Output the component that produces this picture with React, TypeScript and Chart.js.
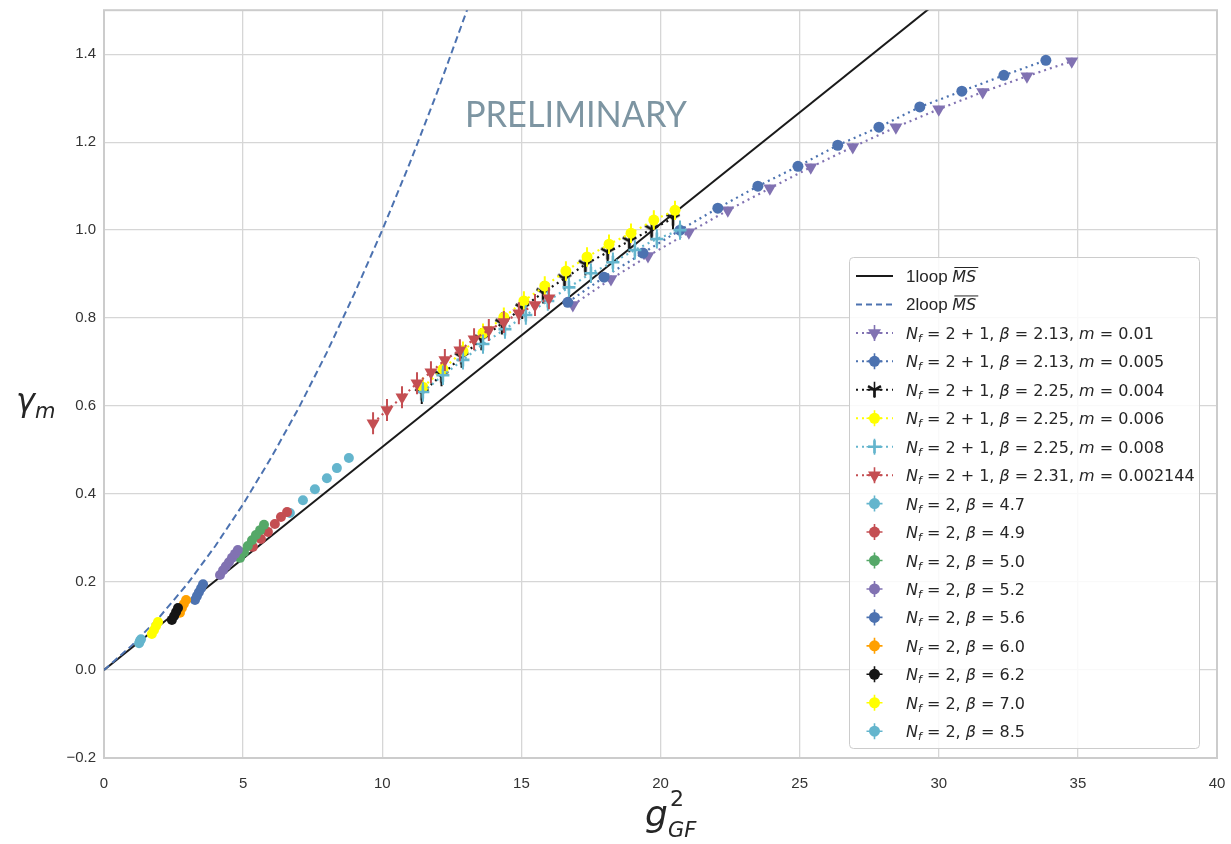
import React, { useEffect, useRef } from 'react';
import { Chart, registerables } from 'chart.js';

Chart.register(...registerables);

// ---------- axes ----------
const X_TICKS = [0, 5, 10, 15, 20, 25, 30, 35, 40];
const Y_TICKS = [-0.2, 0, 0.2, 0.4, 0.6, 0.8, 1.0, 1.2, 1.4];

// ---------- perturbative curves ----------
const LOOP1_X = [0, 40];
const LOOP1_Y = [0, 2.028];
const LOOP2_X = [0, 1, 2, 3, 4, 5, 6, 7, 8, 9, 10, 11, 12, 13, 13.2];
const LOOP2_Y = [0, 0.056, 0.121, 0.196, 0.282, 0.377, 0.482, 0.596, 0.721, 0.856, 1.0, 1.154, 1.318, 1.492, 1.528];

// ---------- Nf = 2+1 ----------
const S213_M010_X = [16.85, 18.22, 19.55, 21.02, 22.42, 23.93, 25.4, 26.91, 28.46, 30.0, 31.58, 33.17, 34.78];
const S213_M010_Y = [0.83, 0.889, 0.941, 0.995, 1.045, 1.095, 1.143, 1.189, 1.234, 1.275, 1.314, 1.35, 1.384];
const S213_M005_X = [16.67, 17.97, 19.37, 20.7, 22.06, 23.5, 24.94, 26.37, 27.85, 29.32, 30.83, 32.34, 33.85];
const S213_M005_Y = [0.836, 0.893, 0.948, 1.0, 1.05, 1.1, 1.145, 1.193, 1.234, 1.28, 1.316, 1.352, 1.386];
const S225_M004_X = [11.42, 12.13, 12.85, 13.56, 14.3, 15.03, 15.78, 16.55, 17.3, 18.1, 18.88, 19.68, 20.45];
const S225_M004_Y = [0.63, 0.67, 0.712, 0.752, 0.788, 0.823, 0.858, 0.89, 0.922, 0.95, 0.975, 1.002, 1.027];
const S225_M006_X = [11.46, 12.18, 12.9, 13.62, 14.37, 15.09, 15.84, 16.6, 17.36, 18.15, 18.94, 19.76, 20.52];
const S225_M006_Y = [0.643, 0.684, 0.725, 0.766, 0.802, 0.839, 0.873, 0.907, 0.939, 0.968, 0.993, 1.023, 1.045];
const S225_M008_X = [11.46, 12.18, 12.9, 13.62, 14.41, 15.16, 15.95, 16.71, 17.5, 18.29, 19.08, 19.87, 20.7];
const S225_M008_Y = [0.632, 0.67, 0.705, 0.741, 0.775, 0.807, 0.839, 0.87, 0.902, 0.927, 0.955, 0.98, 1.0];
const S231_X = [9.67, 10.17, 10.71, 11.25, 11.75, 12.25, 12.79, 13.3, 13.83, 14.37, 14.91, 15.49, 15.99];
const S231_Y = [0.561, 0.591, 0.62, 0.652, 0.677, 0.705, 0.727, 0.752, 0.773, 0.791, 0.811, 0.83, 0.845];

// error sizes (one per series)
const ERR_2P1 = [0.008, 0.008, 0.025, 0.022, 0.022, 0.025];

// ---------- Nf = 2 ----------
const B47_X = [6.68, 7.15, 7.58, 8.01, 8.37, 8.8];
const B47_Y = [0.357, 0.386, 0.411, 0.436, 0.459, 0.482];
const B49_X = [5.35, 5.64, 5.89, 6.14, 6.36, 6.58];
const B49_Y = [0.28, 0.298, 0.314, 0.332, 0.348, 0.359];
const B50_X = [4.89, 5.03, 5.17, 5.32, 5.46, 5.61, 5.75];
const B50_Y = [0.255, 0.268, 0.282, 0.295, 0.307, 0.318, 0.33];
const B52_X = [4.17, 4.28, 4.38, 4.49, 4.6, 4.71, 4.81];
const B52_Y = [0.216, 0.227, 0.236, 0.245, 0.255, 0.264, 0.273];
const B56_X = [3.27, 3.34, 3.41, 3.49, 3.56];
const B56_Y = [0.159, 0.168, 0.177, 0.186, 0.195];
const B60_X = [2.73, 2.8, 2.87, 2.95];
const B60_Y = [0.13, 0.141, 0.15, 0.159];
const B62_X = [2.44, 2.52, 2.59, 2.66];
const B62_Y = [0.114, 0.123, 0.132, 0.141];
const B70_X = [1.72, 1.8, 1.87, 1.94];
const B70_Y = [0.082, 0.091, 0.1, 0.109];
const B85_X = [1.26, 1.29, 1.33];
const B85_Y = [0.061, 0.066, 0.07];

// ---------- labels ----------
const NF21_PARAMS = [
  ['2.13', '0.01'],
  ['2.13', '0.005'],
  ['2.25', '0.004'],
  ['2.25', '0.006'],
  ['2.25', '0.008'],
  ['2.31', '0.002144'],
];
const NF2_BETAS = ['4.7', '4.9', '5.0', '5.2', '5.6', '6.0', '6.2', '7.0', '8.5'];

const C_PURPLE = '#8172B2';
const C_BLUE = '#4C72B0';
const C_BLACK = '#151515';
const C_YELLOW = '#FFFF00';
const C_CYAN = '#64B5CD';
const C_RED = '#C44E52';
const C_GREEN = '#55A868';
const C_ORANGE = '#FFA000';

type Marker = 'circle' | 'tri' | 'triY' | 'plus';
interface Series {
  x: number[];
  y: number[];
  color: string;
  marker: Marker;
  dotted: boolean;
  err: number;
  kind: '21' | '2';
  idx: number;
}

const SERIES: Series[] = [
  { x: S213_M010_X, y: S213_M010_Y, color: C_PURPLE, marker: 'tri', dotted: true, err: ERR_2P1[0], kind: '21', idx: 0 },
  { x: S213_M005_X, y: S213_M005_Y, color: C_BLUE, marker: 'circle', dotted: true, err: ERR_2P1[1], kind: '21', idx: 1 },
  { x: S225_M004_X, y: S225_M004_Y, color: C_BLACK, marker: 'triY', dotted: true, err: ERR_2P1[2], kind: '21', idx: 2 },
  { x: S225_M006_X, y: S225_M006_Y, color: C_YELLOW, marker: 'circle', dotted: true, err: ERR_2P1[3], kind: '21', idx: 3 },
  { x: S225_M008_X, y: S225_M008_Y, color: C_CYAN, marker: 'plus', dotted: true, err: ERR_2P1[4], kind: '21', idx: 4 },
  { x: S231_X, y: S231_Y, color: C_RED, marker: 'tri', dotted: true, err: ERR_2P1[5], kind: '21', idx: 5 },
  { x: B47_X, y: B47_Y, color: C_CYAN, marker: 'circle', dotted: false, err: 0, kind: '2', idx: 0 },
  { x: B49_X, y: B49_Y, color: C_RED, marker: 'circle', dotted: false, err: 0, kind: '2', idx: 1 },
  { x: B50_X, y: B50_Y, color: C_GREEN, marker: 'circle', dotted: false, err: 0, kind: '2', idx: 2 },
  { x: B52_X, y: B52_Y, color: C_PURPLE, marker: 'circle', dotted: false, err: 0, kind: '2', idx: 3 },
  { x: B56_X, y: B56_Y, color: C_BLUE, marker: 'circle', dotted: false, err: 0, kind: '2', idx: 4 },
  { x: B60_X, y: B60_Y, color: C_ORANGE, marker: 'circle', dotted: false, err: 0, kind: '2', idx: 5 },
  { x: B62_X, y: B62_Y, color: C_BLACK, marker: 'circle', dotted: false, err: 0, kind: '2', idx: 6 },
  { x: B70_X, y: B70_Y, color: C_YELLOW, marker: 'circle', dotted: false, err: 0, kind: '2', idx: 7 },
  { x: B85_X, y: B85_Y, color: C_CYAN, marker: 'circle', dotted: false, err: 0, kind: '2', idx: 8 },
];

const pts = (xs: number[], ys: number[]) => xs.map((v, i) => ({ x: v, y: ys[i] }));

function makeTriY(color: string): HTMLCanvasElement {
  const c = document.createElement('canvas');
  c.width = 18;
  c.height = 18;
  const g = c.getContext('2d')!;
  g.strokeStyle = color;
  g.lineWidth = 2.6;
  g.lineCap = 'butt';
  const cx = 9, cy = 9, r = 7.5;
  g.beginPath();
  g.moveTo(cx, cy); g.lineTo(cx, cy + r);
  g.moveTo(cx, cy); g.lineTo(cx - r * 0.866, cy - r * 0.5);
  g.moveTo(cx, cy); g.lineTo(cx + r * 0.866, cy - r * 0.5);
  g.stroke();
  return c;
}

const MATH = '"DejaVu Sans"';
const PLAIN = '"Liberation Sans", Arial, sans-serif';

type Run = { t: string; font: string; dy?: number };
function drawRuns(ctx: CanvasRenderingContext2D, runs: Run[], x: number, y: number) {
  let cx = x;
  for (const r of runs) {
    ctx.font = r.font;
    ctx.fillText(r.t, cx, y + (r.dy || 0));
    cx += ctx.measureText(r.t).width;
  }
  return cx;
}

function legendRuns(s: Series, fs: number): Run[] {
  const it = `italic ${fs}px ${MATH}`;
  const rm = `${fs}px ${MATH}`;
  const sub = `italic ${Math.round(fs * 0.7)}px ${MATH}`;
  if (s.kind === '21') {
    const [b, m] = NF21_PARAMS[s.idx];
    return [
      { t: 'N', font: it }, { t: 'f', font: sub, dy: 3 },
      { t: ' = 2 + 1, ', font: rm }, { t: 'β', font: it }, { t: ' = ' + b + ', ', font: rm },
      { t: 'm', font: it }, { t: ' = ' + m, font: rm },
    ];
  }
  return [
    { t: 'N', font: it }, { t: 'f', font: sub, dy: 3 },
    { t: ' = 2, ', font: rm }, { t: 'β', font: it }, { t: ' = ' + NF2_BETAS[s.idx], font: rm },
  ];
}

function drawMarker(ctx: CanvasRenderingContext2D, m: Marker, x: number, y: number, color: string) {
  ctx.save();
  ctx.fillStyle = color;
  ctx.strokeStyle = color;
  if (m === 'circle') {
    ctx.beginPath(); ctx.arc(x, y, 5.5, 0, Math.PI * 2); ctx.fill();
  } else if (m === 'tri') {
    const r = 7.5;
    ctx.beginPath();
    ctx.moveTo(x - r * 0.866, y - r * 0.5); ctx.lineTo(x + r * 0.866, y - r * 0.5); ctx.lineTo(x, y + r);
    ctx.closePath(); ctx.fill();
  } else if (m === 'triY') {
    const r = 7.5;
    ctx.lineWidth = 2.6;
    ctx.beginPath();
    ctx.moveTo(x, y); ctx.lineTo(x, y + r);
    ctx.moveTo(x, y); ctx.lineTo(x - r * 0.866, y - r * 0.5);
    ctx.moveTo(x, y); ctx.lineTo(x + r * 0.866, y - r * 0.5);
    ctx.stroke();
  } else {
    ctx.lineWidth = 2.6;
    ctx.beginPath();
    ctx.moveTo(x - 6.5, y); ctx.lineTo(x + 6.5, y); ctx.moveTo(x, y - 6.5); ctx.lineTo(x, y + 6.5);
    ctx.stroke();
  }
  ctx.restore();
}

const framePlugin = {
  id: 'frame',
  beforeDatasetsDraw(chart: any) {
    const { ctx, chartArea: a } = chart;
    ctx.save();
    ctx.strokeStyle = '#cccccc';
    ctx.lineWidth = 2;
    ctx.strokeRect(a.left, a.top, a.right - a.left, a.bottom - a.top);
    ctx.restore();
  },
};

const errPlugin = {
  id: 'errbars',
  beforeDatasetDraw(chart: any, args: any) {
    const ds = chart.data.datasets[args.index];
    if (!ds.yErr) return;
    const { ctx, chartArea: a } = chart;
    const xs = chart.scales.x, ys = chart.scales.y;
    ctx.save();
    ctx.beginPath();
    ctx.rect(a.left, a.top, a.right - a.left, a.bottom - a.top);
    ctx.clip();
    ctx.strokeStyle = ds.errColor;
    ctx.lineWidth = 2;
    ctx.beginPath();
    for (const p of ds.data) {
      const px = xs.getPixelForValue(p.x);
      ctx.moveTo(px, ys.getPixelForValue(p.y - ds.yErr));
      ctx.lineTo(px, ys.getPixelForValue(p.y + ds.yErr));
    }
    ctx.stroke();
    ctx.restore();
  },
};

const decorPlugin = {
  id: 'decor',
  afterDraw(chart: any) {
    const ctx: CanvasRenderingContext2D = chart.ctx;
    ctx.save();
    // PRELIMINARY
    ctx.fillStyle = '#7d95a2';
    ctx.font = `36px Lato, "Open Sans", sans-serif`;
    ctx.textBaseline = 'alphabetic';
    const w = ctx.measureText('PRELIMINARY').width;
    ctx.save();
    ctx.translate(465, 127);
    ctx.scale(222 / w, 1);
    ctx.fillText('PRELIMINARY', 0, 0);
    ctx.restore();

    // axis labels
    ctx.fillStyle = '#262626';
    drawRuns(ctx, [{ t: 'γ', font: `italic 32px ${MATH}` }, { t: 'm', font: `italic 21px ${MATH}`, dy: 7 }], 16, 411);
    ctx.font = `italic 36px ${MATH}`;
    ctx.fillText('g', 645, 826);
    ctx.font = `22px ${MATH}`;
    ctx.fillText('2', 670, 806);
    ctx.font = `italic 21px ${MATH}`;
    ctx.fillText('GF', 668, 837);

    // legend
    const L = 849, T = 257, R = 1199, B = 748;
    ctx.fillStyle = 'rgba(255,255,255,0.85)';
    ctx.strokeStyle = '#cccccc';
    ctx.lineWidth = 1;
    ctx.beginPath();
    (ctx as any).roundRect(L + 0.5, T + 0.5, R - L, B - T, 4);
    ctx.fill();
    ctx.stroke();

    const rowY = (i: number) => 276 + i * 28.45;
    const hx0 = 856, hx1 = 893, mx = 874.5, tx = 906;
    const fs = 16;
    // 1loop
    ctx.strokeStyle = '#1a1a1a';
    ctx.lineWidth = 2;
    ctx.beginPath(); ctx.moveTo(hx0, rowY(0)); ctx.lineTo(hx1, rowY(0)); ctx.stroke();
    ctx.strokeStyle = C_BLUE;
    ctx.setLineDash([6, 4]);
    ctx.beginPath(); ctx.moveTo(hx0, rowY(1)); ctx.lineTo(hx1, rowY(1)); ctx.stroke();
    ctx.setLineDash([]);
    ctx.fillStyle = '#262626';
    ['1loop ', '2loop '].forEach((lab, i) => {
      const y = rowY(i) + 6;
      const end = drawRuns(ctx, [{ t: lab, font: `17px ${PLAIN}` }], tx, y);
      ctx.font = `italic ${fs}px ${MATH}`;
      const mw = ctx.measureText('MS').width;
      ctx.fillText('MS', end, y);
      ctx.save();
      ctx.strokeStyle = '#262626';
      ctx.lineWidth = 1;
      ctx.beginPath(); ctx.moveTo(end + 2, y - 14.5); ctx.lineTo(end + mw + 2, y - 14.5); ctx.stroke();
      ctx.restore();
    });

    SERIES.forEach((s, k) => {
      const y = rowY(k + 2);
      ctx.save();
      if (s.dotted) {
        ctx.strokeStyle = s.color;
        ctx.lineWidth = 2;
        ctx.setLineDash([2, 4]);
        ctx.beginPath(); ctx.moveTo(hx0, y); ctx.lineTo(hx1, y); ctx.stroke();
        ctx.setLineDash([]);
      }
      ctx.strokeStyle = s.color;
      ctx.lineWidth = 1.6;
      ctx.beginPath();
      ctx.moveTo(mx - 8, y); ctx.lineTo(mx + 8, y);
      ctx.moveTo(mx, y - 8); ctx.lineTo(mx, y + 8);
      ctx.stroke();
      ctx.restore();
      drawMarker(ctx, s.marker, mx, y, s.color);
      ctx.fillStyle = '#262626';
      drawRuns(ctx, legendRuns(s, fs), tx, y + 6);
    });
    ctx.restore();
  },
};

export default function App() {
  const ref = useRef<HTMLCanvasElement>(null);
  useEffect(() => {
    const canvas = ref.current!;
    const triY = makeTriY(C_BLACK);
    const datasets: any[] = [
      {
        label: '1loop', data: pts(LOOP1_X, LOOP1_Y), showLine: true, borderColor: '#1a1a1a',
        borderWidth: 2, pointRadius: 0, order: 100,
      },
      {
        label: '2loop', data: pts(LOOP2_X, LOOP2_Y), showLine: true, borderColor: C_BLUE,
        borderWidth: 2, borderDash: [7, 4], pointRadius: 0, order: 99,
      },
    ];
    SERIES.forEach((s, k) => {
      const base: any = {
        label: 's' + k,
        data: pts(s.x, s.y),
        showLine: s.dotted,
        borderColor: s.color,
        backgroundColor: s.color,
        pointBorderColor: s.color,
        pointBackgroundColor: s.color,
        borderWidth: 2.2,
        borderDash: [2, 4],
        order: 50 - k,
        yErr: s.err > 0 ? s.err : undefined,
        errColor: s.color,
      };
      if (s.marker === 'circle') {
        base.pointStyle = 'circle';
        base.pointRadius = s.kind === '2' ? 5 : 5.5;
        base.pointBorderWidth = 0;
      } else if (s.marker === 'tri') {
        base.pointStyle = 'triangle';
        base.pointRotation = 180;
        base.pointRadius = 7.5;
        base.pointBorderWidth = 0;
      } else if (s.marker === 'triY') {
        base.pointStyle = triY;
        base.pointRadius = 8;
      } else {
        base.pointStyle = 'cross';
        base.pointRadius = 6.5;
        base.pointBorderWidth = 2.6;
      }
      datasets.push(base);
    });

    const tickFont = { family: '"Liberation Sans", Arial, sans-serif', size: 15 };
    const chart = new Chart(canvas, {
      type: 'scatter',
      data: { datasets },
      options: {
        responsive: false,
        animation: false,
        events: [],
        layout: { padding: { top: 10, right: 14, left: 0, bottom: 0 } },
        plugins: { legend: { display: false }, tooltip: { enabled: false } },
        scales: {
          x: {
            type: 'linear', min: 0, max: 40,
            afterBuildTicks: (s: any) => { s.ticks = X_TICKS.map((v) => ({ value: v })); },
            afterFit: (s: any) => { s.height = 86; s.paddingLeft = 0; s.paddingRight = 0; },
            ticks: { font: tickFont, color: '#333333', padding: 17, maxRotation: 0, callback: (v: any) => String(v) },
            grid: { color: '#d6d6d6', lineWidth: 1.3, drawTicks: false },
            border: { display: false },
          },
          y: {
            type: 'linear', min: -0.2, max: 1.5,
            afterBuildTicks: (s: any) => { s.ticks = Y_TICKS.map((v) => ({ value: v })); },
            afterFit: (s: any) => { s.width = 104; s.paddingTop = 0; s.paddingBottom = 0; },
            ticks: {
              font: tickFont, color: '#333333', padding: 8,
              callback: (v: any) => (v < -1e-9 ? '\u2212' + Math.abs(v).toFixed(1) : Math.abs(v).toFixed(1)),
            },
            grid: { color: '#d6d6d6', lineWidth: 1.3, drawTicks: false },
            border: { display: false },
          },
        },
      } as any,
      plugins: [framePlugin, errPlugin, decorPlugin],
    });
    return () => chart.destroy();
  }, []);
  return (
    <div style={{ position: 'absolute', left: 0, top: 0, width: 1231, height: 844, background: '#ffffff' }}>
      <canvas ref={ref} width={1231} height={844} style={{ display: 'block', width: 1231, height: 844 }} />
    </div>
  );
}
